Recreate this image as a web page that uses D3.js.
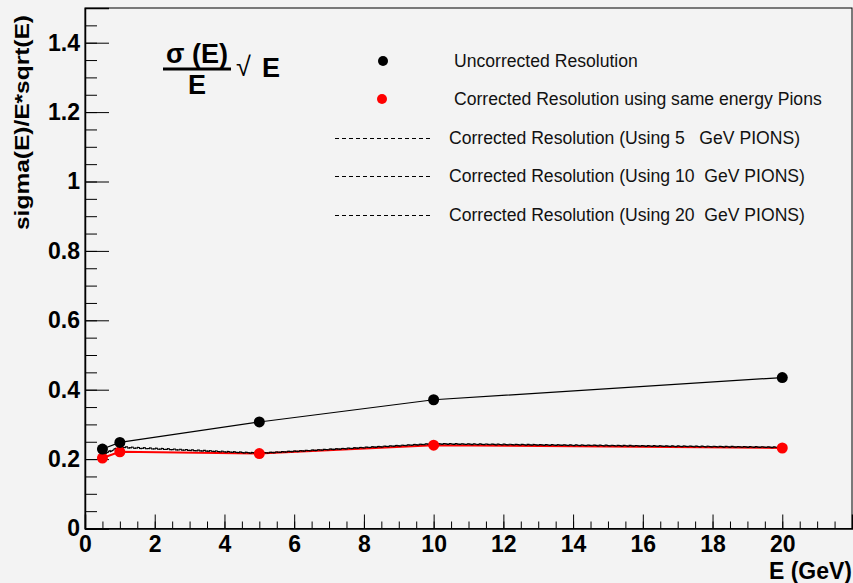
<!DOCTYPE html>
<html>
<head>
<meta charset="utf-8">
<script src="https://cdn.jsdelivr.net/npm/d3@7"></script>
<style>
  body { margin: 0; background: #f3f3f3; }
  svg { display: block; font-family: "Liberation Sans", Arial, sans-serif; }
</style>
</head>
<body>
<div id="chart-area"></div>
<script>
const energies = [0.5, 1, 5, 10, 20]
const uncorrected = [0.229, 0.248, 0.307, 0.371, 0.435]
const correctedSame = [0.203, 0.221, 0.216, 0.240, 0.232]
const corrected5 = [0.215, 0.236, 0.218, 0.245, 0.235]
const corrected10 = [0.213, 0.234, 0.216, 0.243, 0.233]
const corrected20 = [0.212, 0.233, 0.217, 0.244, 0.234]
const legendLabels = [
  "Uncorrected Resolution",
  "Corrected Resolution using same energy Pions",
  "Corrected Resolution (Using 5   GeV PIONS)",
  "Corrected Resolution (Using 10  GeV PIONS)",
  "Corrected Resolution (Using 20  GeV PIONS)"
]
const xTicks = [0, 2, 4, 6, 8, 10, 12, 14, 16, 18, 20]
const yTicks = [0, 0.2, 0.4, 0.6, 0.8, 1, 1.2, 1.4]

function drawChart() {
  const svgWidth = 853
  const svgHeight = 583
  const margin = { left: 85, right: 1, top: 8, bottom: 54 }

  const svg = d3.select("#chart-area")
    .append("svg")
    .attr("width", svgWidth)
    .attr("height", svgHeight)

  svg.append("rect").attr("width", svgWidth).attr("height", svgHeight).attr("fill", "#f3f3f3")

  const x = d3.scaleLinear().domain([0, 22]).range([margin.left, svgWidth - margin.right])
  const y = d3.scaleLinear().domain([0, 1.5]).range([svgHeight - margin.bottom - 0.5, margin.top])

  // frame
  svg.append("rect")
    .attr("x", x(0)).attr("y", y(1.5))
    .attr("width", x(22) - x(0)).attr("height", y(0) - y(1.5))
    .attr("fill", "none").attr("stroke", "#000").attr("stroke-width", 1)

  // x axis: major + minor ticks pointing inward
  const xMinor = d3.range(0, 22.01, 0.5)
  svg.append("g")
    .attr("transform", `translate(0,${y(0)})`)
    .call(d3.axisBottom(x).tickValues(xMinor).tickSize(-7).tickFormat(""))
    .call(g => g.select(".domain").remove())
  svg.append("g")
    .attr("transform", `translate(0,${y(0)})`)
    .call(d3.axisBottom(x).tickValues(xTicks).tickSize(-14).tickPadding(7).tickFormat(d3.format("d")))
    .call(g => g.select(".domain").attr("stroke-width", 1.5))
    .call(g => g.selectAll("text").attr("font-size", 23).attr("font-weight", "bold").attr("fill", "#000"))

  // y axis
  const yMinor = d3.range(0, 1.5001, 0.05)
  svg.append("g")
    .attr("transform", `translate(${x(0)},0)`)
    .call(d3.axisLeft(y).tickValues(yMinor).tickSize(-12).tickFormat(""))
    .call(g => g.select(".domain").remove())
  svg.append("g")
    .attr("transform", `translate(${x(0)},0)`)
    .call(d3.axisLeft(y).tickValues(yTicks).tickSize(-24).tickPadding(5).tickFormat(d => d3.format("~g")(d)))
    .call(g => g.select(".domain").attr("stroke-width", 1.5))
    .call(g => g.selectAll("text").attr("font-size", 23).attr("font-weight", "bold").attr("fill", "#000"))

  // axis titles
  svg.append("text")
    .attr("transform", `translate(29,15) rotate(-90)`)
    .attr("text-anchor", "end")
    .attr("font-size", 20).attr("font-weight", "bold")
    .attr("textLength", 215).attr("lengthAdjust", "spacingAndGlyphs")
    .text("sigma(E)/E*sqrt(E)")
  svg.append("text")
    .attr("x", 852).attr("y", 579)
    .attr("text-anchor", "end")
    .attr("font-size", 23).attr("font-weight", "bold")
    .text("E (GeV)")

  // formula
  const f = svg.append("g").attr("font-weight", "bold")
  f.append("text").attr("x", 197).attr("y", 63).attr("text-anchor", "middle").attr("font-size", 27).text("σ (E)")
  f.append("line").attr("x1", 163).attr("x2", 231).attr("y1", 69).attr("y2", 69).attr("stroke", "#000").attr("stroke-width", 3)
  f.append("text").attr("x", 197).attr("y", 94).attr("text-anchor", "middle").attr("font-size", 27).text("E")
  f.append("text").attr("x", 236).attr("y", 76).attr("font-size", 27).attr("font-weight", "normal").text("√")
  f.append("text").attr("x", 262).attr("y", 77).attr("font-size", 27).text("E")

  const line = d3.line().x((d, i) => x(energies[i])).y(d => y(d))

  // data lines
  svg.append("path").datum(correctedSame).attr("d", line)
    .attr("fill", "none").attr("stroke", "#ff0000").attr("stroke-width", 2)
  const dashed = [corrected5, corrected10, corrected20]
  dashed.forEach((s, k) => {
    svg.append("path").datum(s).attr("d", line)
      .attr("fill", "none").attr("stroke", "#000").attr("stroke-width", 1.2)
      .attr("stroke-dasharray", "3,3").attr("stroke-dashoffset", k * 2)
  })
  svg.append("path").datum(uncorrected).attr("d", line)
    .attr("fill", "none").attr("stroke", "#000").attr("stroke-width", 1.2)

  // markers
  svg.append("g").selectAll("circle").data(correctedSame).join("circle")
    .attr("cx", (d, i) => x(energies[i])).attr("cy", d => y(d)).attr("r", 5.5).attr("fill", "#ff0000")
  svg.append("g").selectAll("circle").data(uncorrected).join("circle")
    .attr("cx", (d, i) => x(energies[i])).attr("cy", d => y(d)).attr("r", 5.5).attr("fill", "#000")

  // legend
  const rowsY = [61, 99, 138, 176, 215]
  const leg = svg.append("g").attr("font-size", 17.6).attr("fill", "#111")
  leg.append("circle").attr("cx", 383).attr("cy", rowsY[0]).attr("r", 5).attr("fill", "#000")
  leg.append("circle").attr("cx", 382).attr("cy", rowsY[1]).attr("r", 5).attr("fill", "#ff0000")
  legendLabels.forEach((t, i) => {
    if (i >= 2) {
      leg.append("line").attr("x1", 335).attr("x2", 430).attr("y1", rowsY[i] + 0.5).attr("y2", rowsY[i] + 0.5)
        .attr("stroke", "#000").attr("stroke-width", 1).attr("stroke-dasharray", "4,3")
        .attr("shape-rendering", "crispEdges")
    }
    leg.append("text")
      .attr("x", i < 2 ? 454 : 449).attr("y", rowsY[i] + 6)
      .attr("xml:space", "preserve")
      .style("white-space", "pre")
      .text(t)
  })
}

drawChart()
</script>
</body>
</html>
